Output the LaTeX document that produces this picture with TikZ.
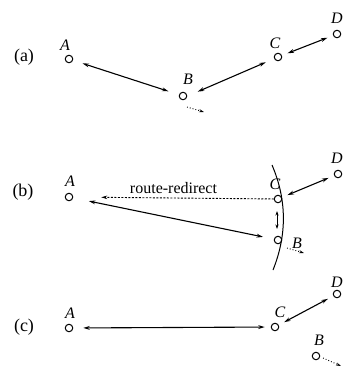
\documentclass[tikz,border=0pt]{standalone}
\usepackage{fontspec}
\setmainfont{Liberation Serif}
\usetikzlibrary{arrows.meta,calc}
\tikzset{
  station/.style={circle,draw,line width=1pt,inner sep=0pt,minimum size=7.5pt},
  lbl/.style={inner sep=0pt,font=\fontsize{16}{18}\selectfont\itshape},
  panel/.style={inner sep=0pt,font=\fontsize{18}{20}\selectfont},
  link/.style={line width=1.1pt,{Stealth[length=6.5pt,width=3.8pt]}-{Stealth[length=6.5pt,width=3.8pt]}},
  shortlink/.style={line width=0.8pt,{Stealth[length=4.5pt,width=3pt]}-{Stealth[length=4.5pt,width=3pt]}},
  moveto/.style={line width=0.9pt,dotted,-{Stealth[length=5pt,width=3pt]}},
  redirect/.style={line width=0.9pt,dash pattern=on 2pt off 1.5pt,-{Stealth[length=6pt,width=3.5pt]}}
}
\begin{document}
\begin{tikzpicture}[x=1pt,y=-1pt]
\useasboundingbox (0,0) rectangle (344,367);
% ---------- (a)
\node[panel] (pa) at (24,57) {(a)};
\node[station] (aA) at (69,59) {};
\node[station] (aB) at (183,96) {};
\node[station] (aC) at (278,57) {};
\node[station] (aD) at (337,34) {};
\node[lbl] (laA) at (65,45) {A};
\node[lbl] (laB) at (188,79) {B};
\node[lbl] (laC) at (275,43) {C};
\node[lbl] (laD) at (337,18) {D};
\draw[link,shorten <=10pt,shorten >=11pt] (aA) -- (aB);
\draw[link,shorten <=16pt,shorten >=9pt] ($(aB)+(0,2)$) -- (aC);
\draw[link,shorten <=6pt,shorten >=6pt] (aC) -- (aD);
\coordinate (aBs) at (187,107);
\coordinate (aBe) at (204,112);
\draw[moveto] (aBs) -- (aBe);
% ---------- (b)
\node[panel] (pb) at (23,192) {(b)};
\node[station] (bA) at (69,197) {};
\node[station] (bC) at (278,199) {};
\node[station] (bB) at (278,240) {};
\node[station] (bD) at (338,174) {};
\node[lbl] (lbA) at (70,181) {A};
\node[lbl] (lbC) at (275,184) {C};
\node[lbl] (lbD) at (337,158) {D};
\node[lbl] (lbB) at (297,243) {B};
\draw[line width=1pt] (272,165) .. controls (287,200) and (287,235) .. (273,270);
\draw[redirect,shorten >=28pt] (bC) -- node[above=1pt,font=\fontsize{16}{18}\selectfont] (rr) {route-redirect} (bA);
\draw[link,shorten <=16pt,shorten >=11pt] (bA) -- (bB);
\draw[shortlink,shorten <=12pt,shorten >=11pt] ($(bC)+(-1,0)$) -- ($(bB)+(-1,0)$);
\draw[link,shorten <=6pt,shorten >=6pt] (bC) -- (bD);
\coordinate (bBs) at (287,248);
\coordinate (bBe) at (304,253);
\draw[moveto] (bBs) -- (bBe);
% ---------- (c)
\node[panel] (pc) at (24,327) {(c)};
\node[station] (cA) at (69,328) {};
\node[station] (cC) at (275,327) {};
\node[station] (cD) at (337,294) {};
\node[station] (cB) at (316,356) {};
\node[lbl] (lcA) at (70,313) {A};
\node[lbl] (lcC) at (280,312) {C};
\node[lbl] (lcD) at (337,282) {D};
\node[lbl] (lcB) at (319,340) {B};
\draw[link,shorten <=10pt,shorten >=6pt] (cA) -- (cC);
\draw[link,shorten <=6pt,shorten >=6pt] (cC) -- (cD);
\coordinate (cBs) at (323,358);
\coordinate (cBe) at (341,366);
\draw[moveto] (cBs) -- (cBe);
\end{tikzpicture}
\end{document}
